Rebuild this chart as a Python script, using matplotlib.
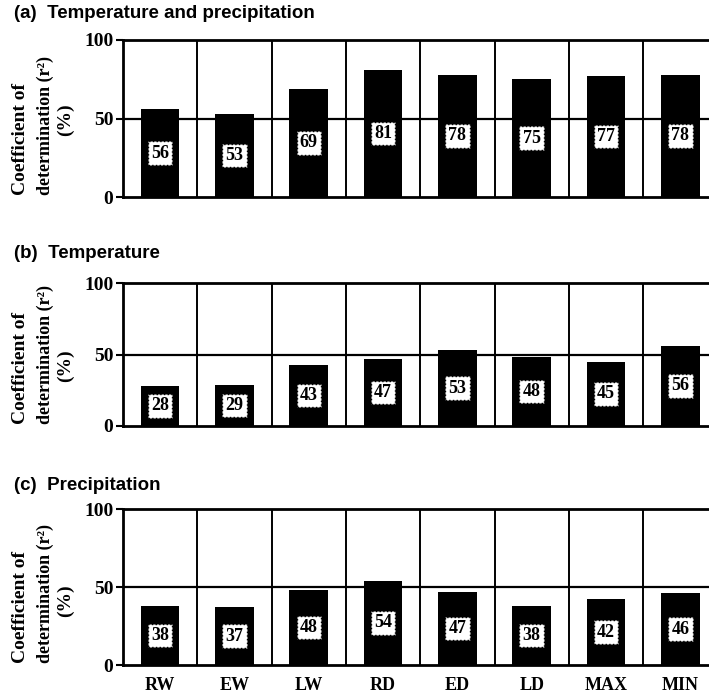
import matplotlib
matplotlib.use("Agg")
import matplotlib.pyplot as plt

categories = ["RW", "EW", "LW", "RD", "ED", "LD", "MAX", "MIN"]
temp_precip = [56, 53, 69, 81, 78, 75, 77, 78]
temperature = [28, 29, 43, 47, 53, 48, 45, 56]
precipitation = [38, 37, 48, 54, 47, 38, 42, 46]
titles = ["(a)  Temperature and precipitation", "(b)  Temperature", "(c)  Precipitation"]
series = [temp_precip, temperature, precipitation]
yticks = [0, 50, 100]

W, H = 709, 698
fig = plt.figure(figsize=(W / 100, H / 100), dpi=100)
fig.patch.set_facecolor("white")

serif = "Liberation Serif"
sans = "Liberation Sans"

# (top px, bottom px) of each panel's plotting area
panel_px = [(40, 197), (283, 426), (509, 665)]
title_px = [14, 253, 485]
pct_px = [120, 366, 601]
left_px = 123
cell_px = 74.3

for i, (vals, title, (top, bot), ty, py) in enumerate(
        zip(series, titles, panel_px, title_px, pct_px)):
    ax = fig.add_axes([left_px / W, 1 - bot / H, 8 * cell_px / W, (bot - top) / H])
    x = [k + 0.5 for k in range(len(categories))]
    ax.bar(x, vals, width=0.52, color="black", zorder=3)
    for xi, v in zip(x, vals):
        ax.text(xi, v / 2, str(v), ha="center", va="center", fontsize=13,
                family=serif, fontweight="bold", color="black", zorder=4,
                bbox=dict(boxstyle="square,pad=0.18", facecolor="white",
                          edgecolor="black", linestyle=":", linewidth=1.0))
    ax.set_xlim(0, 8)
    ax.set_ylim(0, 100)
    for k in range(1, 8):
        ax.axvline(k, color="black", linewidth=1.4, zorder=2)
    ax.axhline(50, color="black", linewidth=1.6, zorder=2)
    for s in ["left", "bottom", "top"]:
        ax.spines[s].set_linewidth(2.0)
    ax.spines["right"].set_visible(False)
    ax.set_yticks(yticks)
    ax.set_yticklabels([str(t) for t in yticks], family=serif, fontweight="bold", fontsize=14)
    ax.tick_params(axis="y", length=5, width=1.5, pad=2)
    if i == 2:
        ax.set_xticks(x)
        ax.set_xticklabels(categories, family=serif, fontweight="bold", fontsize=13)
        ax.tick_params(axis="x", length=0, pad=9)
    else:
        ax.set_xticks([])
    fig.text(14 / W, 1 - ty / H, title, family=sans, fontweight="bold", fontsize=13.5,
             ha="left", va="center")
    # rotated y-axis caption, three lines
    ybase = 1 - (bot - 2) / H
    fig.text(21 / W, ybase, "Coefficient of", rotation=90, ha="center", va="bottom",
             family=serif, fontweight="bold", fontsize=14)
    fig.text(45 / W, ybase, "determination (r²)", rotation=90, ha="center", va="bottom",
             family=serif, fontweight="bold", fontsize=13)
    fig.text(65 / W, 1 - py / H, "(%)", rotation=90, ha="center", va="center",
             family=serif, fontweight="bold", fontsize=14)

fig.savefig("out.png", dpi=100, facecolor="white")
